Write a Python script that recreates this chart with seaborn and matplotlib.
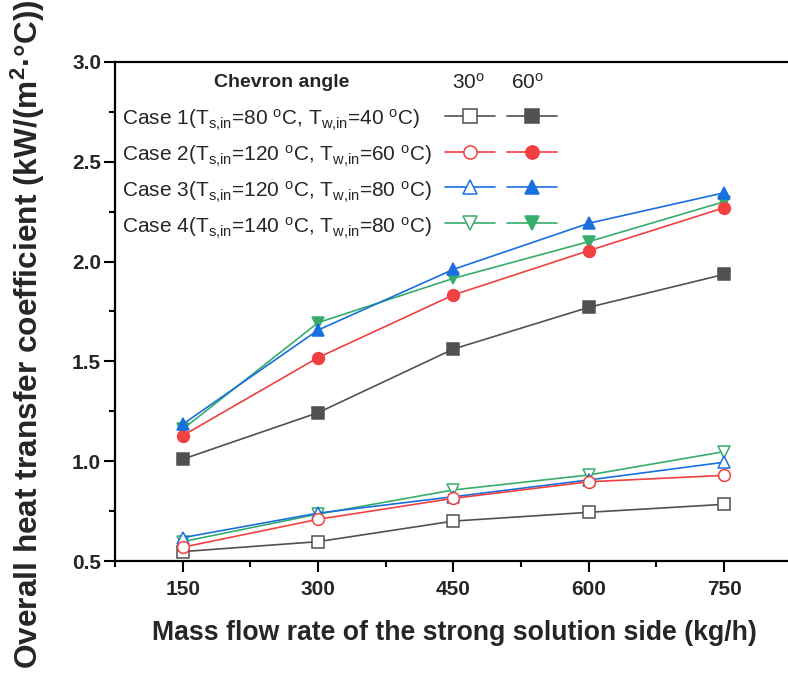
import matplotlib
matplotlib.use("Agg")
import matplotlib.pyplot as plt
import pandas as pd
import seaborn as sns
from matplotlib.lines import Line2D
from matplotlib.ticker import FormatStrFormatter, MultipleLocator

# data
flow_rate = [150, 300, 450, 600, 750]  # kg/h
case1_30 = [0.547, 0.597, 0.700, 0.744, 0.784]
case1_60 = [1.010, 1.243, 1.562, 1.771, 1.936]
case2_30 = [0.569, 0.709, 0.814, 0.897, 0.929]
case2_60 = [1.128, 1.519, 1.833, 2.055, 2.270]
case3_30 = [0.617, 0.740, 0.822, 0.906, 0.995]
case3_60 = [1.185, 1.657, 1.961, 2.192, 2.345]
case4_30 = [0.597, 0.735, 0.856, 0.931, 1.048]
case4_60 = [1.160, 1.694, 1.916, 2.100, 2.300]

case_labels = [
    r"Case 1(T$_{s{,}in}$=80 $^{o}$C, T$_{w{,}in}$=40 $^{o}$C)",
    r"Case 2(T$_{s{,}in}$=120 $^{o}$C, T$_{w{,}in}$=60 $^{o}$C)",
    r"Case 3(T$_{s{,}in}$=120 $^{o}$C, T$_{w{,}in}$=80 $^{o}$C)",
    r"Case 4(T$_{s{,}in}$=140 $^{o}$C, T$_{w{,}in}$=80 $^{o}$C)",
]
case_colors = ["#515151", "#F14040", "#1A6FDF", "#37AD6B"]
case_markers = ["s", "o", "^", "v"]

sns.set_theme(style="ticks")
plt.rcParams["font.family"] = ["Liberation Sans", "DejaVu Sans"]
plt.rcParams["mathtext.fontset"] = "custom"
plt.rcParams["mathtext.rm"] = "Liberation Sans"
plt.rcParams["mathtext.it"] = "Liberation Sans:italic"
plt.rcParams["mathtext.bf"] = "Liberation Sans:bold"
plt.rcParams["mathtext.default"] = "regular"

df = pd.DataFrame({
    "flow": flow_rate * 8,
    "U": case1_30 + case2_30 + case3_30 + case4_30 + case1_60 + case2_60 + case3_60 + case4_60,
    "case": [c for c in range(4) for _ in flow_rate] * 2,
    "angle": [30] * 20 + [60] * 20,
})

fig = plt.figure(figsize=(7.88, 6.73), dpi=100)
ax = fig.add_axes([0.1459, 0.1664, 0.859, 0.7415])

ms = 8.5
lw = 1.2
# open markers (30 deg) then filled (60 deg); order picks who sits on top
for angle, order in [(30, [0, 3, 2, 1]), (60, [0, 3, 1, 2])]:
    for c in order:
        sub = df[(df["case"] == c) & (df["angle"] == angle)]
        col = case_colors[c]
        sns.lineplot(
            data=sub, x="flow", y="U", ax=ax, legend=False,
            color=col, linewidth=lw, marker=case_markers[c], markersize=ms,
            markerfacecolor="white" if angle == 30 else col,
            markeredgecolor=col, markeredgewidth=1.1,
        )

ax.set_xlim(75, 825)
ax.set_ylim(0.5, 3.0)
ax.xaxis.set_major_locator(MultipleLocator(150))
ax.xaxis.set_minor_locator(MultipleLocator(75))
ax.yaxis.set_major_locator(MultipleLocator(0.5))
ax.yaxis.set_minor_locator(MultipleLocator(0.25))
ax.set_xticks(flow_rate)
ax.yaxis.set_major_formatter(FormatStrFormatter("%.1f"))
for sp in ["left", "bottom", "top"]:
    ax.spines[sp].set_linewidth(1.6)
    ax.spines[sp].set_color("black")
ax.spines["right"].set_visible(False)
ax.tick_params(which="major", direction="out", length=8, width=1.5, labelsize=15, color="black")
ax.tick_params(which="minor", direction="out", length=4, width=1.5, color="black")
ax.tick_params(axis="x", pad=6)
ax.tick_params(axis="y", pad=2)
for t in ax.get_xticklabels() + ax.get_yticklabels():
    t.set_fontweight("bold")
ax.set_xlabel("")
ax.set_ylabel("")

fig.text(454 / 788, 1 - 640 / 673, "Mass flow rate of the strong solution side (kg/h)",
         ha="center", va="baseline", fontsize=19.2, fontweight="bold")
fig.text(28 / 788, 1 - 334 / 673,
         r"Overall heat transfer coefficient (kW/(m$^{\mathbf{2}}$·°C))",
         ha="center", va="center", rotation=90, fontsize=22.8, fontweight="bold")

# legend: text column + two handle columns
txt_handles = [Line2D([], [], linestyle="none") for _ in case_labels]
leg_a = ax.legend(txt_handles, case_labels, loc="upper left",
                  bbox_to_anchor=(0.0103, 0.909), frameon=False, fontsize=15,
                  handlelength=0, handletextpad=0, borderpad=0, borderaxespad=0,
                  labelspacing=0.53)
ax.add_artist(leg_a)

mk_handles = []
for angle in (30, 60):
    for c in range(4):
        col = case_colors[c]
        mk_handles.append(Line2D([], [], color=col, linewidth=lw, marker=case_markers[c],
                                 markersize=ms + 1, markeredgecolor=col, markeredgewidth=1.1,
                                 markerfacecolor="white" if angle == 30 else col))
leg_b = ax.legend(mk_handles, [""] * 8, ncol=2, loc="upper left",
                  bbox_to_anchor=(0.4874, 0.907), frameon=False, fontsize=15,
                  handlelength=2.4, handletextpad=0, columnspacing=0.58,
                  borderpad=0, borderaxespad=0, labelspacing=0.8)

ax.text((282 - 115) / 677, (561 - 83) / 499, "Chevron angle", transform=ax.transAxes,
        ha="center", va="center", fontsize=14, fontweight="bold")
ax.text((469 - 115) / 677, (561 - 82.5) / 499, r"30$^{o}$", transform=ax.transAxes,
        ha="center", va="center", fontsize=15)
ax.text((528 - 115) / 677, (561 - 82.5) / 499, r"60$^{o}$", transform=ax.transAxes,
        ha="center", va="center", fontsize=15)

fig.savefig("out.png", dpi=100)
